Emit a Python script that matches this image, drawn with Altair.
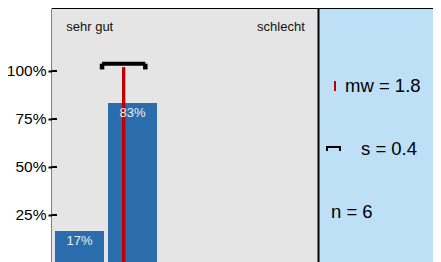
import altair as alt
import pandas as pd

# ---- data ----
categories = [1, 2]
shares = [1 / 6, 5 / 6]
mean_value = 11 / 6
sd_value = 0.4082
n_value = 6
end_labels = ["sehr gut", "schlecht"]
end_label_pos = [0.75, 5.25]
y_ticks = [0.25, 0.5, 0.75, 1.0]

FONT = "Liberation Sans"
BAR = "#2b6cad"
RED = "#c00000"
GRAY = "#e5e5e5"
BLUE = "#bde0f6"

W, H = 381, 254
xs = alt.Scale(domain=[0.4811, 0.4811 + W / 53], nice=False, zero=False)
ys = alt.Scale(domain=[0.0052, 1.3281], nice=False, zero=False)

one = pd.DataFrame({"d": [0]})

bg_gray = alt.Chart(one).mark_rect(color=GRAY).encode(
    x=alt.value(0), x2=alt.value(266), y=alt.value(0), y2=alt.value(H))
bg_blue = alt.Chart(one).mark_rect(color=BLUE).encode(
    x=alt.value(267), x2=alt.value(W), y=alt.value(0), y2=alt.value(H))

bars_df = pd.DataFrame({"cat": categories, "share": shares})
bars = alt.Chart(bars_df).transform_calculate(
    x1="datum.cat - 0.4623", x2="datum.cat + 0.4623", y0="0"
).mark_bar(color=BAR).encode(
    x=alt.X("x1:Q", scale=xs, axis=None),
    x2="x2:Q",
    y=alt.Y("share:Q", scale=ys,
            axis=alt.Axis(values=y_ticks, format="%", title=None, grid=False,
                          domainColor="black", domainWidth=2, tickColor="black",
                          tickWidth=2, tickSize=4, labelPadding=2,
                          labelFontSize=15.5, labelFont=FONT, labelColor="black")),
    y2="y0:Q",
)
bar_text = alt.Chart(bars_df).mark_text(
    baseline="top", dy=4, fontSize=13, font=FONT, color="#eeeeee"
).encode(
    x=alt.X("cat:Q", scale=xs),
    y=alt.Y("share:Q", scale=ys),
    text=alt.Text("share:Q", format=".0%"),
)

inner_ticks = alt.Chart(pd.DataFrame({"v": y_ticks})).mark_rule(
    color="black", strokeWidth=2).encode(
    x=alt.value(0), x2=alt.value(5), y=alt.Y("v:Q", scale=ys))

stat_df = pd.DataFrame({"m": [mean_value], "s": [sd_value]})
stat = alt.Chart(stat_df).transform_calculate(
    lo="datum.m - datum.s", hi="datum.m + datum.s",
    y0="0", ytop="1.02", ybar="1.038", ycap="1.008")
red_line = stat.mark_rule(color=RED, strokeWidth=3.3).encode(
    x=alt.X("m:Q", scale=xs), y=alt.Y("y0:Q", scale=ys), y2="ytop:Q")
err_h = stat.mark_rule(color="black", strokeWidth=4).encode(
    x=alt.X("lo:Q", scale=xs), x2="hi:Q", y=alt.Y("ybar:Q", scale=ys))
cap_l = stat.mark_rule(color="black", strokeWidth=4.5).encode(
    x=alt.X("lo:Q", scale=xs), y=alt.Y("ybar:Q", scale=ys), y2="ycap:Q")
cap_r = stat.mark_rule(color="black", strokeWidth=4.5).encode(
    x=alt.X("hi:Q", scale=xs), y=alt.Y("ybar:Q", scale=ys), y2="ycap:Q")

ends_df = pd.DataFrame({"lab": end_labels, "pos": end_label_pos,
                        "yy": [1.208, 1.208]})
end_left = alt.Chart(ends_df.iloc[[0]]).mark_text(
    align="left", baseline="alphabetic", fontSize=13, font=FONT, color="#111"
).encode(x=alt.X("pos:Q", scale=xs), y=alt.Y("yy:Q", scale=ys), text="lab:N")
end_right = alt.Chart(ends_df.iloc[[1]]).mark_text(
    align="right", baseline="alphabetic", fontSize=13, font=FONT, color="#111"
).encode(x=alt.X("pos:Q", scale=xs), y=alt.Y("yy:Q", scale=ys), text="lab:N")

# frame lines
top_line = alt.Chart(one).mark_rule(color="black", strokeWidth=2).encode(
    x=alt.value(0), x2=alt.value(W), y=alt.value(0))
divider = alt.Chart(one).mark_rule(color="black", strokeWidth=2).encode(
    x=alt.value(266.5), y=alt.value(0), y2=alt.value(H))

# legend panel
leg_mw = alt.Chart(one).mark_rule(color=RED, strokeWidth=2).encode(
    x=alt.value(283), y=alt.value(73), y2=alt.value(83))
leg_s_h = alt.Chart(one).mark_rule(color="black", strokeWidth=2).encode(
    x=alt.value(274), x2=alt.value(289), y=alt.value(139))
leg_s_c1 = alt.Chart(one).mark_rule(color="black", strokeWidth=2).encode(
    x=alt.value(275), y=alt.value(139), y2=alt.value(143))
leg_s_c2 = alt.Chart(one).mark_rule(color="black", strokeWidth=2).encode(
    x=alt.value(288), y=alt.value(139), y2=alt.value(143))

legend_texts = pd.DataFrame({
    "t": [f"mw = {mean_value:.1f}", f"s = {sd_value:.1f}", f"n = {n_value}"],
})
txt_mw = alt.Chart(legend_texts.iloc[[0]]).mark_text(
    align="left", baseline="alphabetic", fontSize=18.5, font=FONT, color="black"
).encode(x=alt.value(293), y=alt.value(84), text="t:N")
txt_s = alt.Chart(legend_texts.iloc[[1]]).mark_text(
    align="left", baseline="alphabetic", fontSize=18.5, font=FONT, color="black"
).encode(x=alt.value(309), y=alt.value(147), text="t:N")
txt_n = alt.Chart(legend_texts.iloc[[2]]).mark_text(
    align="left", baseline="alphabetic", fontSize=18.5, font=FONT, color="black"
).encode(x=alt.value(279), y=alt.value(210), text="t:N")

chart = alt.layer(
    bg_gray, bg_blue, bars, inner_ticks, red_line, bar_text, err_h, cap_l, cap_r,
    end_left, end_right, top_line, divider,
    leg_mw, leg_s_h, leg_s_c1, leg_s_c2, txt_mw, txt_s, txt_n,
).properties(
    width=W, height=H,
    autosize=alt.AutoSizeParams(type="none"),
    padding={"left": 44, "top": 0, "right": 0, "bottom": 0},
).configure_view(strokeWidth=0).configure(background="white")

chart.save("out.html", embed_options={"renderer": "svg", "actions": False})
